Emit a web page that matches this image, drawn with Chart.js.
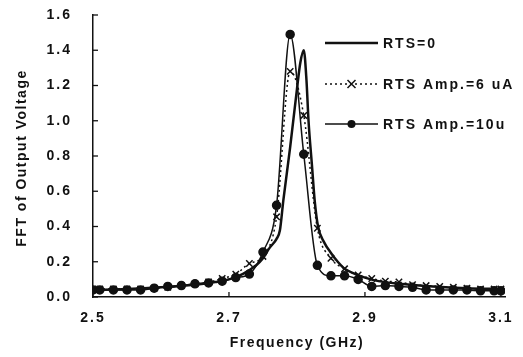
<!DOCTYPE html>
<html>
<head>
<meta charset="utf-8">
<script src="https://cdn.jsdelivr.net/npm/chart.js@4.4.1/dist/chart.umd.min.js"></script>
<style>
  html, body { margin: 0; padding: 0; background: #fff; }
  #wrap { width: 523px; height: 357px; }
</style>
</head>
<body>
<div id="wrap"><canvas id="fftChart" width="523" height="357"></canvas></div>
<script>
// valores
const markFreq = [2.50, 2.51, 2.53, 2.55, 2.57, 2.59, 2.61, 2.63, 2.65, 2.67, 2.69, 2.71, 2.73, 2.75, 2.77, 2.79,
                  2.81, 2.83, 2.85, 2.87, 2.89, 2.91, 2.93, 2.95, 2.97, 2.99, 3.01, 3.03, 3.05, 3.07, 3.09, 3.10];
const rts6uA = [0.045, 0.045, 0.045, 0.045, 0.045, 0.05, 0.055, 0.065, 0.075, 0.085, 0.105, 0.13, 0.19, 0.23, 0.455, 1.28,
                1.03, 0.39, 0.22, 0.16, 0.125, 0.105, 0.09, 0.085, 0.07, 0.065, 0.06, 0.055, 0.05, 0.045, 0.045, 0.045];
const rts10u = [0.04, 0.04, 0.04, 0.04, 0.04, 0.05, 0.06, 0.065, 0.075, 0.08, 0.09, 0.11, 0.13, 0.255, 0.52, 1.49,
                0.81, 0.18, 0.12, 0.12, 0.10, 0.06, 0.065, 0.06, 0.055, 0.04, 0.04, 0.04, 0.04, 0.035, 0.035, 0.035];

const zeroFreq = [2.50, 2.55, 2.60, 2.65, 2.68, 2.70, 2.72, 2.74, 2.75, 2.76, 2.77, 2.775, 2.78, 2.79, 2.80, 2.805, 2.81,
                  2.814, 2.817, 2.822, 2.826, 2.831, 2.84, 2.85, 2.86, 2.87, 2.88, 2.90, 2.92, 2.95, 3.00, 3.05, 3.10];
const rtsZero = [0.04, 0.045, 0.055, 0.07, 0.085, 0.10, 0.13, 0.18, 0.22, 0.28, 0.33, 0.38, 0.55, 0.85, 1.18, 1.33, 1.40,
                 1.23, 1.00, 0.75, 0.55, 0.40, 0.31, 0.25, 0.20, 0.16, 0.14, 0.11, 0.09, 0.075, 0.06, 0.05, 0.045];

const xTicks = [2.5, 2.7, 2.9, 3.1];
const yTicks = [0, 0.2, 0.4, 0.6, 0.8, 1.0, 1.2, 1.4, 1.6];
const seriesNames = ['RTS=0', 'RTS Amp.=6 uA', 'RTS Amp.=10u'];

const FONT = '"Liberation Sans", Arial, sans-serif';
const INK = '#111';

function pairs(xs, ys) {
    return xs.map((x, i) => ({ x: x, y: ys[i] }));
}

// leyenda, marcas de los ejes y titulos
const decor = {
    id: 'decor',
    beforeDraw(chart) {
        chart.ctx.letterSpacing = '2px';
    },
    afterDraw(chart) {
        const ctx = chart.ctx;
        const xs = chart.scales.x, ys = chart.scales.y;
        const area = chart.chartArea;
        ctx.save();
        ctx.strokeStyle = INK;
        ctx.fillStyle = INK;
        ctx.lineWidth = 1.3;
        // marcas hacia adentro
        yTicks.forEach(v => {
            const y = ys.getPixelForValue(v);
            ctx.beginPath(); ctx.moveTo(area.left, y); ctx.lineTo(area.left + 5, y); ctx.stroke();
        });
        xTicks.forEach(v => {
            const x = xs.getPixelForValue(v);
            ctx.beginPath(); ctx.moveTo(x, area.bottom); ctx.lineTo(x, area.bottom - 5); ctx.stroke();
        });

        // titulos
        ctx.font = 'bold 14px ' + FONT;
        ctx.letterSpacing = '1.5px';
        ctx.textAlign = 'center';
        ctx.textBaseline = 'middle';
        ctx.fillText('Frequency (GHz)', 297, 343);
        ctx.save();
        ctx.translate(22, 158);
        ctx.rotate(-Math.PI / 2);
        ctx.letterSpacing = '1.5px';
        ctx.font = 'bold 14px ' + FONT;
        ctx.fillText('FFT of Output Voltage', 0, 0);
        ctx.restore();

        // leyenda
        const rows = [43, 84, 124];
        const x0 = 325, x1 = 378;
        ctx.textAlign = 'left';
        ctx.letterSpacing = '2px';
        ctx.font = 'bold 14px ' + FONT;
        rows.forEach((y, i) => {
            ctx.beginPath();
            if (i === 0) { ctx.lineWidth = 2.5; ctx.setLineDash([]); }
            else if (i === 1) { ctx.lineWidth = 1.5; ctx.setLineDash([2, 3]); }
            else { ctx.lineWidth = 1.5; ctx.setLineDash([]); }
            ctx.moveTo(x0, y); ctx.lineTo(x1, y); ctx.stroke();
            ctx.setLineDash([]);
            const cx = (x0 + x1) / 2;
            if (i === 1) {
                ctx.lineWidth = 1.5;
                ctx.beginPath();
                ctx.moveTo(cx - 4, y - 4); ctx.lineTo(cx + 4, y + 4);
                ctx.moveTo(cx - 4, y + 4); ctx.lineTo(cx + 4, y - 4);
                ctx.stroke();
            } else if (i === 2) {
                ctx.beginPath(); ctx.arc(cx, y, 4, 0, Math.PI * 2); ctx.fill();
            }
            ctx.fillText(seriesNames[i], 383, y + 1);
        });
        ctx.restore();
    }
};

new Chart(document.getElementById('fftChart'), {
    type: 'line',
    data: {
        datasets: [{
            label: seriesNames[0],
            data: pairs(zeroFreq, rtsZero),
            borderColor: INK,
            borderWidth: 2.5,
            pointRadius: 0,
            cubicInterpolationMode: 'monotone'
        }, {
            label: seriesNames[1],
            data: pairs(markFreq, rts6uA),
            borderColor: INK,
            borderWidth: 1.5,
            borderDash: [2, 3],
            pointStyle: 'crossRot',
            pointRadius: 4.5,
            pointBorderWidth: 1.5,
            pointBorderColor: INK,
            cubicInterpolationMode: 'monotone'
        }, {
            label: seriesNames[2],
            data: pairs(markFreq, rts10u),
            borderColor: INK,
            backgroundColor: INK,
            borderWidth: 1.5,
            pointStyle: 'circle',
            pointRadius: 4,
            pointBackgroundColor: INK,
            pointBorderColor: INK,
            cubicInterpolationMode: 'monotone'
        }]
    },
    options: {
        responsive: false,
        animation: false,
        events: [],
        layout: { padding: { top: 15, right: 18, bottom: 0, left: 0 } },
        plugins: {
            legend: { display: false },
            tooltip: { enabled: false }
        },
        scales: {
            x: {
                type: 'linear',
                min: 2.5,
                max: 3.106,
                afterBuildTicks: s => { s.ticks = xTicks.map(v => ({ value: v })); },
                afterFit: s => { s.height = 60; s.paddingLeft = 0; s.paddingRight = 0; },
                grid: { display: false, drawTicks: false },
                border: { display: true, color: INK, width: 1.5 },
                ticks: {
                    padding: 13,
                    color: INK,
                    font: { family: FONT, size: 14, weight: 'bold' },
                    maxRotation: 0,
                    autoSkip: false,
                    callback: v => v.toFixed(1)
                }
            },
            y: {
                min: 0,
                max: 1.6,
                afterBuildTicks: s => { s.ticks = yTicks.map(v => ({ value: v })); },
                afterFit: s => { s.width = 93; s.paddingTop = 0; s.paddingBottom = 0; },
                grid: { display: false, drawTicks: false },
                border: { display: true, color: INK, width: 1.5 },
                ticks: {
                    padding: 21,
                    color: INK,
                    font: { family: FONT, size: 14, weight: 'bold' },
                    callback: v => v.toFixed(1)
                }
            }
        }
    },
    plugins: [decor]
});
</script>
</body>
</html>
